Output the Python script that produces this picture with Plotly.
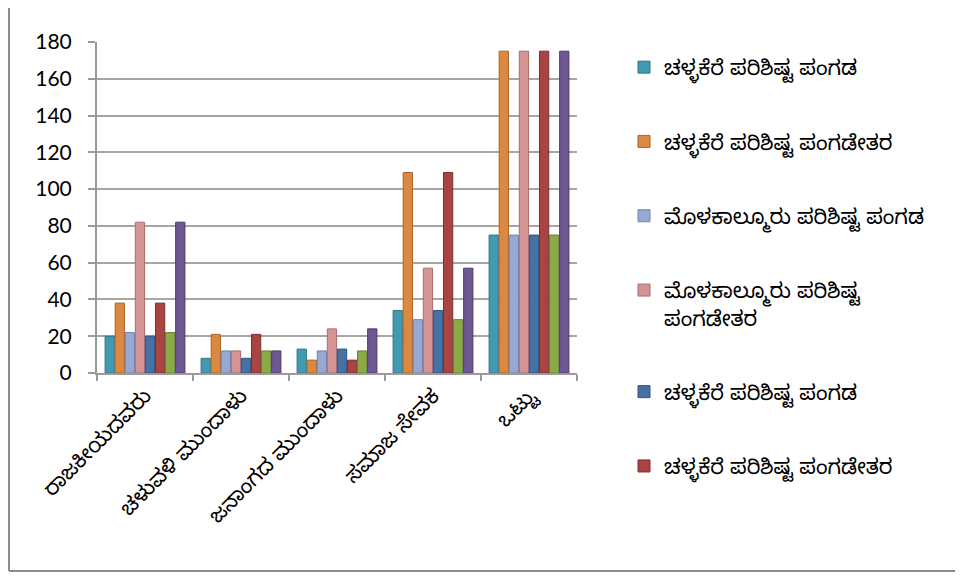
import plotly.graph_objects as go

# categories (x axis)
categories = ["ರಾಜಕೀಯದವರು", "ಚಳುವಳಿ ಮುಂದಾಳು", "ಜನಾಂಗದ ಮುಂದಾಳು", "ಸಮಾಜ ಸೇವಕ", "ಒಟ್ಟು"]

# series names (the last two are cut off in the original legend)
series_names = [
    "ಚಳ್ಳಕೆರೆ ಪರಿಶಿಷ್ಟ ಪಂಗಡ",
    "ಚಳ್ಳಕೆರೆ ಪರಿಶಿಷ್ಟ ಪಂಗಡೇತರ",
    "ಮೊಳಕಾಲ್ಮೂರು ಪರಿಶಿಷ್ಟ ಪಂಗಡ",
    "ಮೊಳಕಾಲ್ಮೂರು ಪರಿಶಿಷ್ಟ<br>ಪಂಗಡೇತರ",
    "ಚಳ್ಳಕೆರೆ ಪರಿಶಿಷ್ಟ ಪಂಗಡ",
    "ಚಳ್ಳಕೆರೆ ಪರಿಶಿಷ್ಟ ಪಂಗಡೇತರ",
    "ಮೊಳಕಾಲ್ಮೂರು ಪರಿಶಿಷ್ಟ ಪಂಗಡ",
    "ಮೊಳಕಾಲ್ಮೂರು ಪರಿಶಿಷ್ಟ ಪಂಗಡೇತರ",
]

# values per series
s1 = [20, 8, 13, 34, 75]
s2 = [38, 21, 7, 109, 175]
s3 = [22, 12, 12, 29, 75]
s4 = [82, 12, 24, 57, 175]
s5 = [20, 8, 13, 34, 75]
s6 = [38, 21, 7, 109, 175]
s7 = [22, 12, 12, 29, 75]
s8 = [82, 12, 24, 57, 175]
series_values = [s1, s2, s3, s4, s5, s6, s7, s8]

colors = ["#4299B0", "#DB8840", "#95A9D3", "#D49494",
          "#4671A7", "#A94442", "#8DAA4B", "#6F5791"]
edge = ["#2E7587", "#A9652B", "#6F84AE", "#A86E6E",
        "#2F5282", "#7C2E2C", "#677E33", "#4E3C68"]

kn_font = "Noto Sans Kannada, Noto Sans, sans-serif"
W, H = 963, 577
OFF = 8  # page body margin
L, R, T, B = 97 - OFF, 577 - OFF, 42 - OFF, 373 - OFF  # plot area in figure px


def px(x, y):
    # viewport pixel -> paper coords
    return (x - OFF - L) / (R - L), (B - (y - OFF)) / (B - T)


fig = go.Figure()
for i, (name, vals) in enumerate(zip(series_names, series_values)):
    fig.add_trace(go.Bar(
        x=categories, y=vals, name=name,
        marker=dict(color=colors[i], line=dict(color=edge[i], width=1)),
        legendgroup=f"g{i}",
        showlegend=i < 6,
    ))

x0, y0 = px(OFF + 1, 0)
x1, y1 = px(980, 571)
shapes = [
    dict(type="line", xref="paper", yref="paper", x0=x0, y0=y0, x1=x0, y1=y1,
         line=dict(color="#8C8C8C", width=2)),
    dict(type="line", xref="paper", yref="paper", x0=x0, y0=y1, x1=x1, y1=y1,
         line=dict(color="#8C8C8C", width=2)),
]

fig.update_layout(
    width=W, height=H,
    margin=dict(l=L, r=W - R, t=T, b=H - B),
    paper_bgcolor="white", plot_bgcolor="white",
    barmode="group", bargap=0.16, bargroupgap=0.08,
    shapes=shapes,
    showlegend=True,
    legend=dict(xref="container", yref="container",
                x=(624 - OFF) / W, y=1 - (47 - OFF) / H,
                xanchor="left", yanchor="top",
                font=dict(family=kn_font, size=21, color="black"),
                tracegroupgap=44, valign="top", bgcolor="rgba(0,0,0,0)",
                maxheight=1.0),
    xaxis=dict(showline=True, linecolor="#9A9A9A", linewidth=2,
               ticks="outside", tickson="boundaries", ticklen=6,
               tickcolor="#9A9A9A", tickwidth=2, tickangle=-45,
               tickfont=dict(family=kn_font, size=21, color="black")),
    yaxis=dict(range=[0, 180], dtick=20, showline=True, linecolor="#9A9A9A",
               linewidth=2, ticks="outside", ticklen=7, tickcolor="#9A9A9A",
               tickwidth=2, gridcolor="#A6A6A6", gridwidth=2,
               ticklabelstandoff=12, zeroline=False,
               tickfont=dict(family="Lato, Open Sans, sans-serif", size=21,
                             color="black")),
)

fig.write_html("out.html")
